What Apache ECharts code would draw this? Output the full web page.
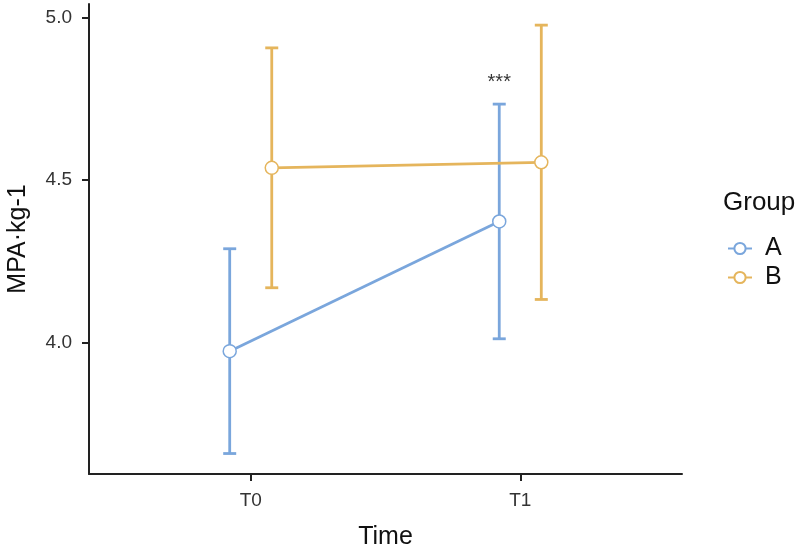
<!DOCTYPE html>
<html>
<head>
<meta charset="utf-8">
<script src="https://cdn.jsdelivr.net/npm/echarts@6/dist/echarts.min.js"></script>
<style>
  html, body { margin: 0; padding: 0; background: #fff; }
  #chart { width: 800px; height: 553px; }
</style>
</head>
<body>
<div id="chart"></div>
<script>
// data
const timepoints = ['T0', 'T1']
const groups = ['A', 'B']
const groupColors = ['#7AA6DC', '#E5B55C']
const meansA = [3.973, 4.372]
const errA = [0.315, 0.361]
const meansB = [4.537, 4.554]
const errB = [0.369, 0.422]
const yTicks = [4.0, 4.5, 5.0]
const signif = [{ time: 1, group: 0, y: 4.80, text: '***' }]

const dodge = 0.078
const fontFamily = '"Liberation Sans", Arial, Helvetica, sans-serif'

const means = [meansA, meansB]
const errs = [errA, errB]

/** 按分组左右错开 */
function xPos(t, g) {
  return t + 1 + (g === 0 ? -dodge : dodge)
}

const chart = echarts.init(document.getElementById('chart'))

const series = []

groups.forEach((g, gi) => {
  const pts = means[gi].map((m, ti) => [xPos(ti, gi), m])
  series.push({
    name: g,
    type: 'line',
    data: pts,
    z: 3,
    symbol: 'circle',
    symbolSize: 13,
    showSymbol: true,
    lineStyle: { color: groupColors[gi], width: 2.8 },
    itemStyle: { color: '#fff', borderColor: groupColors[gi], borderWidth: 1.5 },
    emphasis: { disabled: true },
    animation: false
  })
})

// 误差线
groups.forEach((g, gi) => {
  const bars = means[gi].map((m, ti) => [xPos(ti, gi), m - errs[gi][ti], m + errs[gi][ti]])
  series.push({
    name: g,
    type: 'custom',
    data: bars,
    z: 2,
    renderItem(params, api) {
      const x = api.value(0)
      const lo = api.coord([x, api.value(1)])
      const hi = api.coord([x, api.value(2)])
      const half = 6.5
      const style = { stroke: groupColors[gi], lineWidth: 2.8 }
      return {
        type: 'group',
        children: [
          { type: 'line', shape: { x1: lo[0], y1: lo[1], x2: hi[0], y2: hi[1] }, style },
          { type: 'line', shape: { x1: lo[0] - half, y1: lo[1], x2: lo[0] + half, y2: lo[1] }, style },
          { type: 'line', shape: { x1: hi[0] - half, y1: hi[1], x2: hi[0] + half, y2: hi[1] }, style }
        ]
      }
    },
    animation: false
  })
})

// 显著性标记
series.push({
  type: 'scatter',
  data: signif.map(s => [xPos(s.time, s.group), s.y, s.text]),
  symbolSize: 0,
  silent: true,
  label: {
    show: true,
    position: 'inside',
    formatter: p => p.value[2],
    color: '#000',
    fontSize: 20,
    fontFamily
  },
  animation: false
})

chart.setOption({
  animation: false,
  grid: { left: 89, right: 118, top: 4, bottom: 79, outerBoundsMode: 'none', containLabel: false },
  xAxis: {
    type: 'value',
    min: 0.4,
    max: 2.6,
    name: 'Time',
    nameLocation: 'middle',
    nameGap: 51,
    nameTextStyle: { fontSize: 25, color: '#111', fontFamily },
    splitLine: { show: false },
    axisLine: { show: true, onZero: false, lineStyle: { color: '#222', width: 2 } },
    axisTick: { show: true, customValues: [1, 2], length: 7, lineStyle: { color: '#222', width: 2 } },
    axisLabel: {
      customValues: [1, 2],
      formatter: v => timepoints[Math.round(v) - 1],
      margin: 17,
      fontSize: 19,
      color: '#333',
      fontFamily
    }
  },
  yAxis: {
    type: 'value',
    min: 3.595,
    max: 5.041,
    name: 'MPA·kg-1',
    nameLocation: 'middle',
    nameGap: 58,
    nameTextStyle: { fontSize: 25, color: '#111', fontFamily },
    splitLine: { show: false },
    axisLine: { show: true, onZero: false, lineStyle: { color: '#222', width: 2 } },
    axisTick: { show: true, customValues: yTicks, length: 7, lineStyle: { color: '#222', width: 2 } },
    axisLabel: {
      customValues: yTicks,
      formatter: v => v.toFixed(1),
      margin: 17,
      fontSize: 19,
      color: '#333',
      fontFamily
    }
  },
  legend: {
    data: groups,
    orient: 'vertical',
    left: 722,
    top: 231,
    itemWidth: 24,
    itemHeight: 14,
    itemGap: 4,
    selectedMode: false,
    textStyle: { fontSize: 25, lineHeight: 24, color: '#111', fontFamily, padding: [0, 0, 0, 8] }
  },
  graphic: [{
    type: 'text',
    left: 723,
    top: 190,
    style: { text: 'Group', fontSize: 26, fill: '#111', fontFamily }
  }],
  series
})

window.addEventListener('resize', () => chart.resize())
</script>
</body>
</html>
